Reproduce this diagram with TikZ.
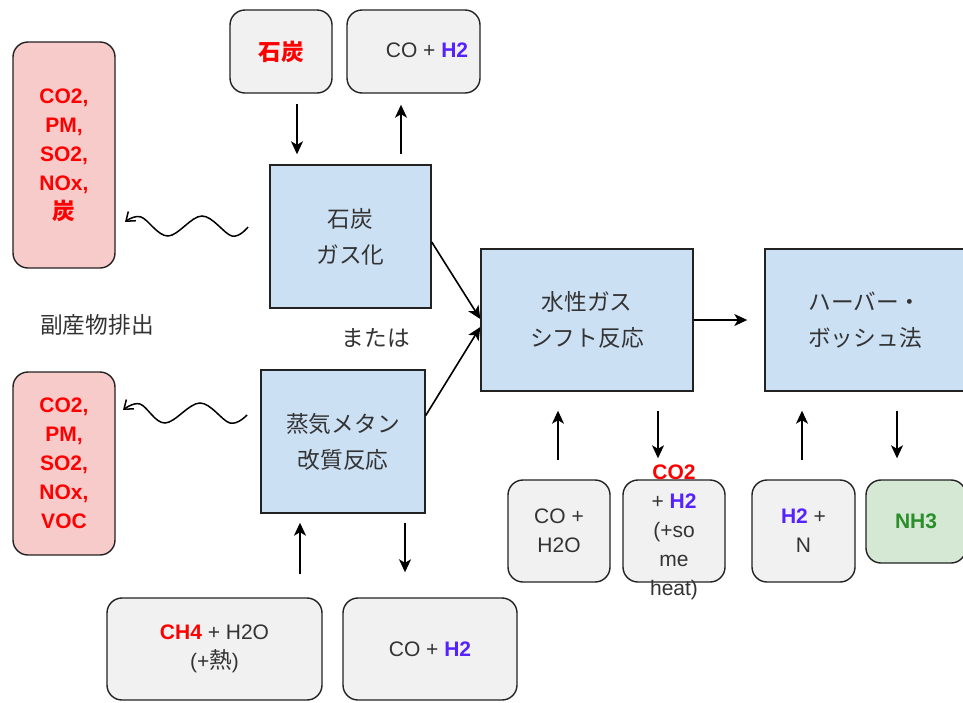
\documentclass[tikz,border=0pt]{standalone}
\usepackage{fontspec}
\setmainfont{Liberation Sans}
\newfontfamily\jp[Scale=1.08]{Noto Sans CJK JP}
\usetikzlibrary{arrows.meta,calc}
\definecolor{bluefill}{HTML}{CCE0F4}
\definecolor{redfill}{HTML}{F8CBCB}
\definecolor{greyfill}{HTML}{F1F1F1}
\definecolor{greenfill}{HTML}{D5E8D4}
\definecolor{txt}{HTML}{333333}
\definecolor{hred}{HTML}{FF0000}
\definecolor{hblue}{HTML}{5522FF}
\definecolor{hgreen}{HTML}{2A8F2A}
\definecolor{edge}{HTML}{222222}
\newcommand{\Hr}[1]{\textcolor{hblue}{\bfseries #1}}
\begin{document}
\begin{tikzpicture}[x=1pt,y=-1pt,
  every node/.style={inner sep=0pt, text=txt, font=\fontsize{21}{29}\selectfont},
  bluebox/.style={draw=edge, line width=1.4pt, fill=bluefill, align=center,
     font=\fontsize{21}{36}\selectfont},
  greybox/.style={draw=edge, line width=1.4pt, fill=greyfill, rounded corners=15pt, align=center},
  redbox/.style={draw=edge, line width=1.4pt, fill=redfill, rounded corners=15pt, align=center,
     text=hred, font=\fontsize{21}{29}\selectfont\bfseries},
  greenbox/.style={draw=edge, line width=1.4pt, fill=greenfill, rounded corners=15pt, align=center,
     text=hgreen, font=\fontsize{21}{29}\selectfont\bfseries},
  arr/.style={draw=black, line width=1.6pt, -{Stealth[length=13pt,width=12pt,inset=3.5pt]}},
  wave/.style={draw=black, line width=1.5pt, -{Straight Barb[length=8pt,width=12pt]}},
  plain/.style={text=txt, align=center}]
\useasboundingbox (0,0) rectangle (963,702);

% red emission boxes
\node[redbox, minimum width=102pt, minimum height=226pt] (red1) at (64,155)
  {CO2,\\PM,\\SO2,\\NOx,\\{\jp 炭}};
\node[redbox, minimum width=102pt, minimum height=183pt] (red2) at (64,463.5)
  {CO2,\\PM,\\SO2,\\NOx,\\VOC};
\node[plain] (byprod) at (97,325) {\jp 副産物排出};
\node[plain] (or) at (376,338) {\jp または};

% coal gasification
\node[greybox, minimum width=102pt, minimum height=83pt] (coal) at (281,51.5)
  {\textcolor{hred}{\bfseries\jp 石炭}};
\node[greybox, minimum width=133pt, minimum height=83pt] (cotop) at (413.5,51.5) {};
\node[plain] (cotoptxt) at (427,50) {CO + \Hr{H2}};
\node[bluebox, minimum width=161pt, minimum height=143pt] (gas) at (350.5,236.5)
  {\jp 石炭\\\jp ガス化};

% steam methane reforming
\node[bluebox, minimum width=164pt, minimum height=143pt] (steam) at (343,441.5)
  {\jp 蒸気メタン\\\jp 改質反応};
\node[greybox, minimum width=215pt, minimum height=102pt] (ch4) at (214.5,649)
  {\textcolor{hred}{\bfseries CH4} + H2O\\(+{\jp 熱})};
\node[greybox, minimum width=174pt, minimum height=102pt] (cobot) at (430,649)
  {CO + \Hr{H2}};

% water gas shift
\node[bluebox, minimum width=212pt, minimum height=142pt] (wgs) at (587,320)
  {\jp 水性ガス\\\jp シフト反応};
\node[greybox, minimum width=102pt, minimum height=102pt] (coh2o) at (559,531)
  {CO +\\H2O};
\node[greybox, minimum width=102pt, minimum height=102pt] (co2box) at (674,531) {};
\node[plain] (co2txt) at (674,532)
  {\textcolor{hred}{\bfseries CO2}\\+ \Hr{H2}\\(+so\\me\\heat)};

% Haber-Bosch
\node[bluebox, minimum width=200pt, minimum height=142pt] (haber) at (865,320)
  {\jp ハーバー・\\\jp ボッシュ法};
\node[greybox, minimum width=103pt, minimum height=102pt] (h2n) at (803.5,531)
  {\Hr{H2} +\\N};
\node[greenbox, minimum width=100pt, minimum height=83pt] (nh3) at (916,521.5) {NH3};

% x positions of vertical arrows
\coordinate (x1) at (297,0);
\coordinate (x2) at (401,0);
\coordinate (x3) at (300,0);
\coordinate (x4) at (405,0);
\coordinate (x5) at (558,0);
\coordinate (x6) at (658,0);
\coordinate (x7) at (802,0);
\coordinate (x8) at (897,0);

\draw[arr, shorten <=10pt, shorten >=10pt] (coal.south -| x1) -- (gas.north -| x1);
\draw[arr, shorten <=10pt, shorten >=11pt] (gas.north -| x2) -- (cotop.south -| x2);
\draw[arr, shorten <=23pt, shorten >=9pt] (ch4.north -| x3) -- (steam.south -| x3);
\draw[arr, shorten <=9pt, shorten >=25pt] (steam.south -| x4) -- (cobot.north -| x4);
\draw[arr, shorten <=19pt, shorten >=19pt] (coh2o.north -| x5) -- (wgs.south -| x5);
\draw[arr, shorten <=19pt, shorten >=21pt] (wgs.south -| x6) -- (co2box.north -| x6);
\draw[arr, shorten <=19pt, shorten >=19pt] (h2n.north -| x7) -- (haber.south -| x7);
\draw[arr, shorten <=19pt, shorten >=21pt] (haber.south -| x8) -- (nh3.north -| x8);
\draw[arr, shorten >=17pt] (wgs.east) -- (haber.west);

% diagonal merges
\draw[arr] ($(gas.east)+(0,5.5)$) -- ($(wgs.west)+(0,-1)$);
\draw[arr] ($(steam.east)+(0,-26)$) -- ($(wgs.west)+(0,7)$);

% wavy emission arrows
\coordinate (w1) at (248,227);
\coordinate (w2) at (247,415);
\draw[wave] plot[smooth, tension=0.6] coordinates
  {(w1) (232,236) (202,216) (168,236) (141,217) (125,222)};
\draw[wave] plot[smooth, tension=0.6] coordinates
  {(w2) (230,423) (200,403) (165,423) (140,404) (123,410)};
\end{tikzpicture}
\end{document}
